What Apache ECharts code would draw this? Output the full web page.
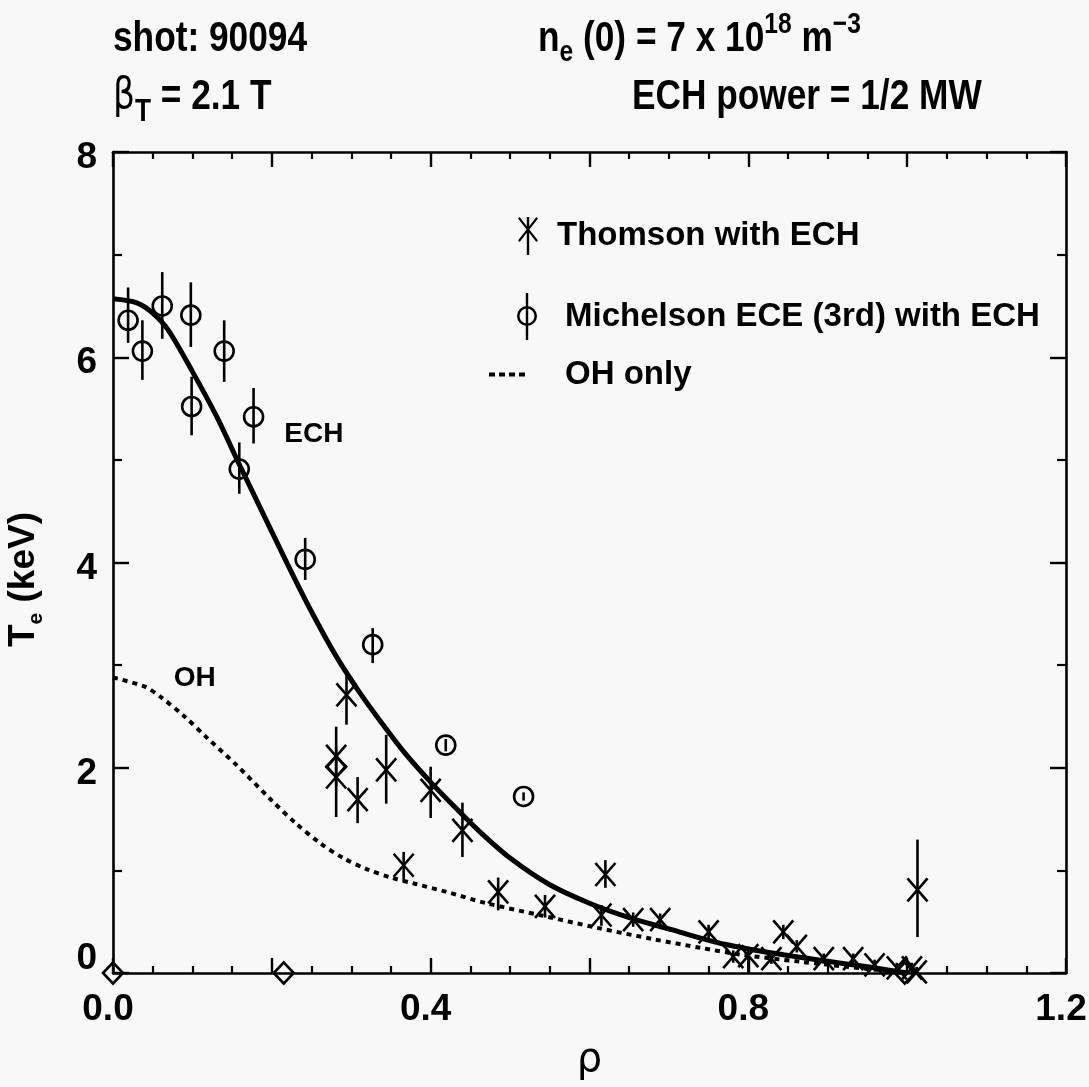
<!DOCTYPE html>
<html>
<head>
<meta charset="utf-8">
<script src="https://cdn.jsdelivr.net/npm/echarts@6/dist/echarts.min.js"></script>
<style>
html,body{margin:0;padding:0;background:#f8f8f8;}
#chart{width:1089px;height:1087px;}
</style>
</head>
<body>
<div id="chart"></div>
<script>
// ---- data ----
const thomsonRho = [0.281,0.281,0.294,0.308,0.344,0.366,0.400,0.440,0.485,0.544,0.615,0.620,0.655,0.689,0.750,0.781,0.800,0.829,0.844,0.861,0.895,0.932,0.959,0.987,1.006,1.012,1.013];
const thomsonTe  = [2.11,1.91,2.71,1.69,1.98,1.05,1.78,1.39,0.79,0.65,0.565,0.96,0.52,0.52,0.40,0.16,0.17,0.14,0.40,0.26,0.14,0.14,0.08,0.05,0.05,0.01,0.81];
const thomsonLo  = [1.82,1.52,2.42,1.46,1.65,0.89,1.51,1.13,0.61,0.54,0.46,0.83,0.45,0.45,0.33,0.10,0.00,0.09,0.33,0.20,0.09,0.09,0.03,0.00,0.00,0.00,0.35];
const thomsonHi  = [2.40,2.20,2.94,1.91,2.32,1.18,2.01,1.66,0.93,0.76,0.66,1.10,0.59,0.58,0.47,0.22,0.22,0.20,0.47,0.32,0.19,0.19,0.13,0.10,0.10,0.06,1.30];

const eceRho = [0.019,0.037,0.062,0.098,0.099,0.140,0.159,0.177,0.242,0.327,0.419,0.517];
const eceTe  = [6.36,6.06,6.50,6.41,5.52,6.06,4.91,5.42,4.03,3.20,2.22,1.72];
const eceLo  = [6.14,5.78,6.18,6.10,5.24,5.76,4.67,5.16,3.83,3.02,2.16,1.68];
const eceHi  = [6.68,6.36,6.83,6.73,5.81,6.36,5.17,5.70,4.24,3.36,2.28,1.76];

const echFitRho = [0.00,0.03,0.05,0.07,0.10,0.13,0.16,0.19,0.22,0.25,0.28,0.31,0.34,0.37,0.40,0.43,0.46,0.50,0.55,0.60,0.65,0.70,0.77,0.85,0.95,1.00];
const echFitTe  = [6.57,6.53,6.43,6.26,5.86,5.43,4.94,4.46,3.98,3.52,3.10,2.74,2.42,2.12,1.86,1.62,1.39,1.12,0.86,0.68,0.54,0.43,0.28,0.17,0.06,0.00];

const ohRho = [0.00,0.04,0.06,0.09,0.12,0.155,0.20,0.23,0.26,0.29,0.32,0.35,0.38,0.42,0.47,0.54,0.61,0.68,0.74,0.79,0.865,0.95,1.00];
const ohTe  = [2.88,2.79,2.69,2.50,2.28,2.03,1.68,1.46,1.27,1.12,1.01,0.93,0.87,0.79,0.68,0.56,0.44,0.33,0.245,0.18,0.11,0.04,0.00];

const diamondRho = [0.0,0.215,0.281,0.997];
const diamondTe  = [0.0,0.0,2.01,0.0];

const xTickLabels = ['0.0','0.4','0.8','1.2'];
const yTickLabels = ['0','2','4','6','8'];

// ---- build ----
const FONT = '"Liberation Sans",Arial,Helvetica,sans-serif';
const zip = (...a) => a[0].map((_, i) => a.map(arr => arr[i]));

const thomsonIcon = 'path://M0,1.5L1.6,0L20,23.5L18.4,25Z M20,1.5L1.6,25L0,23.5L18.4,0Z M8.8,0L11.2,0L11.2,38L8.8,38Z';
const eceIcon = 'path://M0,23A10,10 0 1,1 20,23A10,10 0 1,1 0,23Z M2.5,23A7.5,7.5 0 1,0 17.5,23A7.5,7.5 0 1,0 2.5,23Z M8.8,0L11.2,0L11.2,47L8.8,47Z';
const ohIcon = 'path://M0,0h6v4h-6z M10,0h6v4h-6z M20,0h6v4h-6z M30,0h6v4h-6z';

const stroke = {stroke:'#000', lineWidth:2.6, fill:null};

function renderThomson(params, api) {
  const x = api.value(0), y = api.value(1), lo = api.value(2), hi = api.value(3);
  const c = api.coord([x, y]), cl = api.coord([x, lo]), ch = api.coord([x, hi]);
  return {type:'group', children:[
    {type:'line', shape:{x1:c[0], y1:ch[1], x2:c[0], y2:cl[1]}, style:stroke},
    {type:'line', shape:{x1:c[0]-10, y1:c[1]-11.5, x2:c[0]+10, y2:c[1]+11.5}, style:stroke},
    {type:'line', shape:{x1:c[0]+10, y1:c[1]-11.5, x2:c[0]-10, y2:c[1]+11.5}, style:stroke}
  ]};
}
function renderEce(params, api) {
  const x = api.value(0), y = api.value(1), lo = api.value(2), hi = api.value(3);
  const c = api.coord([x, y]), cl = api.coord([x, lo]), ch = api.coord([x, hi]);
  return {type:'group', children:[
    {type:'line', shape:{x1:c[0], y1:ch[1], x2:c[0], y2:cl[1]}, style:stroke},
    {type:'circle', shape:{cx:c[0], cy:c[1], r:9.5}, style:{stroke:'#000', lineWidth:2.6, fill:null}}
  ]};
}

const axisCommonX = {
  type:'value', min:0, max:1.2, interval:0.2,
  axisLine:{show:true, onZero:false, lineStyle:{color:'#000', width:2.6}},
  axisTick:{show:true, inside:true, length:15, lineStyle:{color:'#000', width:2.4}},
  minorTick:{show:true, splitNumber:4, length:7, lineStyle:{color:'#000', width:2.2}},
  splitLine:{show:false}
};
const axisCommonY = {
  type:'value', min:0, max:8, interval:2,
  axisLine:{show:true, onZero:false, lineStyle:{color:'#000', width:2.6}},
  axisTick:{show:true, inside:true, length:16, lineStyle:{color:'#000', width:2.4}},
  minorTick:{show:true, splitNumber:2, length:9, lineStyle:{color:'#000', width:2.2}},
  splitLine:{show:false}
};

const legendText = {fontFamily:FONT, fontWeight:'bold', fontSize:33, color:'#000'};
const headScale = 0.82;
const headFont = 'bold 43px ' + FONT;

const option = {
  animation:false,
  backgroundColor:'#f8f8f8',
  grid:{left:113, right:23, top:152, bottom:114, outerBoundsMode:'none', containLabel:false},
  xAxis:[
    Object.assign({}, axisCommonX, {
      position:'bottom', name:'ρ', nameLocation:'middle', nameGap:68,
      nameTextStyle:{fontFamily:'"DejaVu Sans","Liberation Sans",sans-serif', fontSize:40, color:'#000'},
      axisLabel:{show:true, margin:18, padding:[0,10,0,0], fontFamily:FONT, fontWeight:'bold', fontSize:37, color:'#000',
        formatter:v => { const k = Math.round(v*10); return k % 4 === 0 ? xTickLabels[k/4] : ''; }}
    }),
    Object.assign({}, axisCommonX, {position:'top', axisLabel:{show:false}})
  ],
  yAxis:[
    Object.assign({}, axisCommonY, {
      position:'left', name:'{a|T}{s|e}{a| (keV)}', nameLocation:'middle', nameGap:66, nameRotate:90,
      nameTextStyle:{padding:[0,34,0,0], rich:{
        a:{fontFamily:FONT, fontWeight:'bold', fontSize:37, color:'#000', lineHeight:46},
        s:{fontFamily:FONT, fontWeight:'bold', fontSize:21, color:'#000', lineHeight:21, verticalAlign:'bottom'}
      }},
      axisLabel:{show:true, margin:16, fontFamily:FONT, fontWeight:'bold', fontSize:37, color:'#000',
        formatter:v => { const i = Math.round(v/2); return i === 0 ? '{z|' + yTickLabels[i] + '}' : '{n|' + yTickLabels[i] + '}'; },
        rich:{
          n:{fontFamily:FONT, fontWeight:'bold', fontSize:37, color:'#000', padding:[12,0,0,0]},
          z:{fontFamily:FONT, fontWeight:'bold', fontSize:37, color:'#000', padding:[0,0,28,0]}
        }}
    }),
    Object.assign({}, axisCommonY, {position:'right', axisLabel:{show:false}})
  ],
  legend:[
    {data:[{name:'Thomson with ECH', icon:thomsonIcon, itemStyle:{color:'#000', borderWidth:0}}],
     left:513, top:212, itemWidth:20, itemHeight:38, selectedMode:false,
     itemStyle:{color:'#000'}, textStyle:Object.assign({padding:[0,0,0,14]}, legendText)},
    {data:[{name:'Michelson ECE (3rd) with ECH', icon:eceIcon, itemStyle:{color:'#000', borderWidth:0}}],
     left:512, top:288, itemWidth:20, itemHeight:47, selectedMode:false,
     itemStyle:{color:'#000'}, textStyle:Object.assign({padding:[0,0,0,23]}, legendText)},
    {data:[{name:'OH only', icon:ohIcon, itemStyle:{color:'#000', borderWidth:0}}],
     left:484, top:353, itemWidth:36, itemHeight:4, selectedMode:false,
     itemStyle:{color:'#000'}, textStyle:Object.assign({padding:[0,0,0,35]}, legendText)}
  ],
  graphic:[
    {type:'text', x:113, y:39, scaleX:headScale, style:{text:'shot: 90094', font:headFont, fill:'#000', verticalAlign:'middle'}},
    {type:'text', x:113, y:97, scaleX:headScale, style:{
      text:'{b|β}{t|T}{a| = 2.1 T}', verticalAlign:'middle',
      rich:{
        b:{fontFamily:'"DejaVu Sans","Liberation Sans",sans-serif', fontSize:42, fill:'#000', lineHeight:62},
        t:{fontFamily:FONT, fontWeight:'bold', fontSize:32, fill:'#000', lineHeight:32, verticalAlign:'bottom'},
        a:{fontFamily:FONT, fontWeight:'bold', fontSize:43, fill:'#000', lineHeight:62}
      }}},
    {type:'text', x:538, y:39, scaleX:headScale, style:{
      text:'{a|n}{s|e}{a| (0) = 7 x 10}{p|18}{a| m}{p|−3}', verticalAlign:'middle',
      rich:{
        a:{fontFamily:FONT, fontWeight:'bold', fontSize:43, fill:'#000', lineHeight:58},
        s:{fontFamily:FONT, fontWeight:'bold', fontSize:30, fill:'#000', lineHeight:30, verticalAlign:'bottom'},
        p:{fontFamily:FONT, fontWeight:'bold', fontSize:30, fill:'#000', lineHeight:30, verticalAlign:'top'}
      }}},
    {type:'text', x:632, y:97, scaleX:headScale, style:{text:'ECH power = 1/2 MW', font:headFont, fill:'#000', verticalAlign:'middle'}}
  ],
  series:[
    {name:'ECH', type:'line', smooth:0.3, symbol:'none', silent:true,
     data:zip(echFitRho, echFitTe), lineStyle:{color:'#000', width:5},
     markPoint:{symbol:'circle', symbolSize:0, silent:true,
       label:{show:true, position:'inside', formatter:'ECH', fontFamily:FONT, fontWeight:'bold', fontSize:28, color:'#000'},
       data:[{coord:[0.253, 5.25]}]}},
    {name:'OH only', type:'line', smooth:0.3, symbol:'none', silent:true, itemStyle:{color:'#000'},
     data:zip(ohRho, ohTe), lineStyle:{color:'#000', width:4, type:[5,5]},
     markPoint:{symbol:'circle', symbolSize:0, silent:true,
       label:{show:true, position:'inside', formatter:'OH', fontFamily:FONT, fontWeight:'bold', fontSize:28, color:'#000'},
       data:[{coord:[0.103, 2.87]}]}},
    {name:'Thomson with ECH', type:'custom', clip:false, itemStyle:{color:'#000'},
     renderItem:renderThomson, encode:{x:0, y:[1,2,3]},
     data:zip(thomsonRho, thomsonTe, thomsonLo, thomsonHi)},
    {name:'Michelson ECE (3rd) with ECH', type:'custom', clip:false, itemStyle:{color:'#000'},
     renderItem:renderEce, encode:{x:0, y:[1,2,3]},
     data:zip(eceRho, eceTe, eceLo, eceHi)},
    {name:'marker', type:'scatter', symbol:'diamond', symbolSize:[20,21], clip:false, silent:true,
     itemStyle:{color:'rgba(0,0,0,0)', borderColor:'#000', borderWidth:2.6, opacity:1},
     data:zip(diamondRho, diamondTe)}
  ]
};

const chart = echarts.init(document.getElementById('chart'), null, {renderer:'canvas'});
chart.setOption(option);
</script>
</body>
</html>
